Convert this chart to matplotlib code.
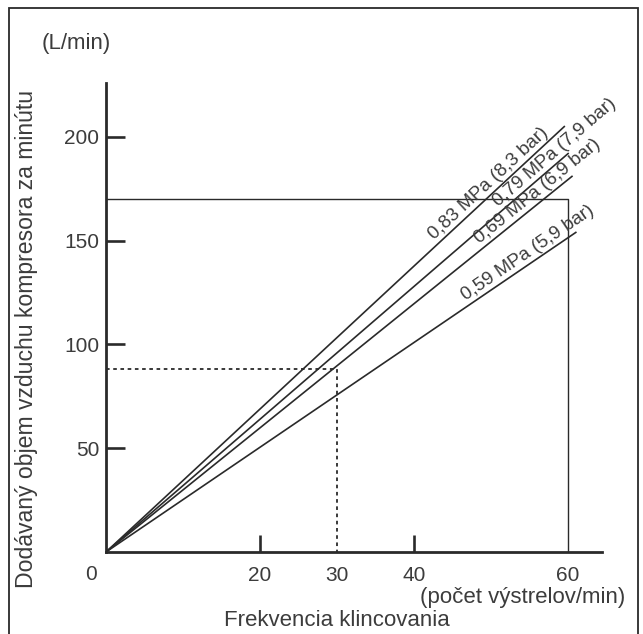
import numpy as np
import matplotlib
matplotlib.use("Agg")
import matplotlib.pyplot as plt
from matplotlib.patches import Rectangle

# Compressor air delivery vs. nailing frequency
pressure_labels = ['0,83 MPa (8,3 bar)', '0,79 MPa (7,9 bar)',
                   '0,69 MPa (6,9 bar)', '0,59 MPa (5,9 bar)']
line_end_x = [59.5, 60.0, 60.5, 61.0]      # shots/min at line end
line_end_y = [205, 192, 181, 154]          # L/min at line end

x_ticks = [20, 30, 40, 60]
y_ticks = [50, 100, 150, 200]

box_x, box_y = 60, 170          # solid reference box
example_x, example_y = 30, 88   # dotted example reading

TEXT = '#3c3c3c'
LINE = '#2a2a2a'
plt.rcParams['font.family'] = ['Liberation Sans', 'DejaVu Sans']

fig = plt.figure(figsize=(6.43, 6.34), dpi=100)
ax = fig.add_axes([106 / 643, 82 / 634, 496 / 643, 469 / 634])
ax.set_xlim(0, 64.4)
ax.set_ylim(0, 226)

# outer frame (bottom edge runs off the image)
fig.patches.append(Rectangle((9 / 643, -0.05), 629 / 643, 1.05 - 8 / 634,
                             transform=fig.transFigure, fill=False,
                             lw=1.3, ec=LINE))

for s in ['top', 'right']:
    ax.spines[s].set_visible(False)
for s in ['left', 'bottom']:
    ax.spines[s].set_linewidth(2.0)
    ax.spines[s].set_color(LINE)

ax.set_yticks(y_ticks)
ax.set_xticks(x_ticks)
ax.tick_params(axis='y', direction='in', length=14, width=1.9, colors=LINE,
               labelcolor=TEXT, labelsize=15, pad=5)
ax.tick_params(axis='x', direction='in', length=12, width=1.9, colors=LINE,
               labelcolor=TEXT, labelsize=15, pad=10)
for t, v in zip(ax.xaxis.get_major_ticks(), x_ticks):
    if v in (30, 60):
        t.tick1line.set_visible(False)

# reference box and dotted reading
ax.plot([0, box_x, box_x], [box_y, box_y, 0], color=LINE, lw=1.0)
ax.plot([0, example_x, example_x], [example_y, example_y, 0], color=LINE,
        lw=1.3, linestyle=(0, (2, 2)))

# pressure lines with labels
label_pos = [0.85, 0.985, 0.94, 0.91]
label_off = 7
for lab, xe, ye, t in zip(pressure_labels, line_end_x, line_end_y, label_pos):
    ax.plot([0, xe], [0, ye], color=LINE, lw=1.2)
    p0 = ax.transData.transform((0, 0))
    p1 = ax.transData.transform((xe, ye))
    d = p1 - p0
    ang = np.degrees(np.arctan2(d[1], d[0]))
    n = np.array([-d[1], d[0]]) / np.hypot(*d)
    ax.annotate(lab, xy=(xe * t, ye * t), xytext=(n[0] * label_off, n[1] * label_off),
                textcoords='offset points', rotation=ang, rotation_mode='anchor',
                ha='center', va='center', fontsize=13.5, color=TEXT)

# texts
ax.text(-0.018, -0.028, '0', transform=ax.transAxes, ha='right', va='top',
        fontsize=15, color=TEXT)
fig.text(42 / 643, 1 - 43 / 634, '(L/min)', ha='left', va='center',
         fontsize=16, color=TEXT)
fig.text(27 / 643, 1 - 339 / 634, 'Dodávaný objem vzduchu kompresora za minútu',
         rotation=90, ha='center', va='center', fontsize=16.6, color=TEXT)
fig.text(337 / 643, 1 - 620 / 634, 'Frekvencia klincovania', ha='center',
         va='center', fontsize=16, color=TEXT)
fig.text(625 / 643, 1 - 597 / 634, '(počet výstrelov/min)', ha='right',
         va='center', fontsize=16, color=TEXT)

fig.savefig('out.png', dpi=100)
